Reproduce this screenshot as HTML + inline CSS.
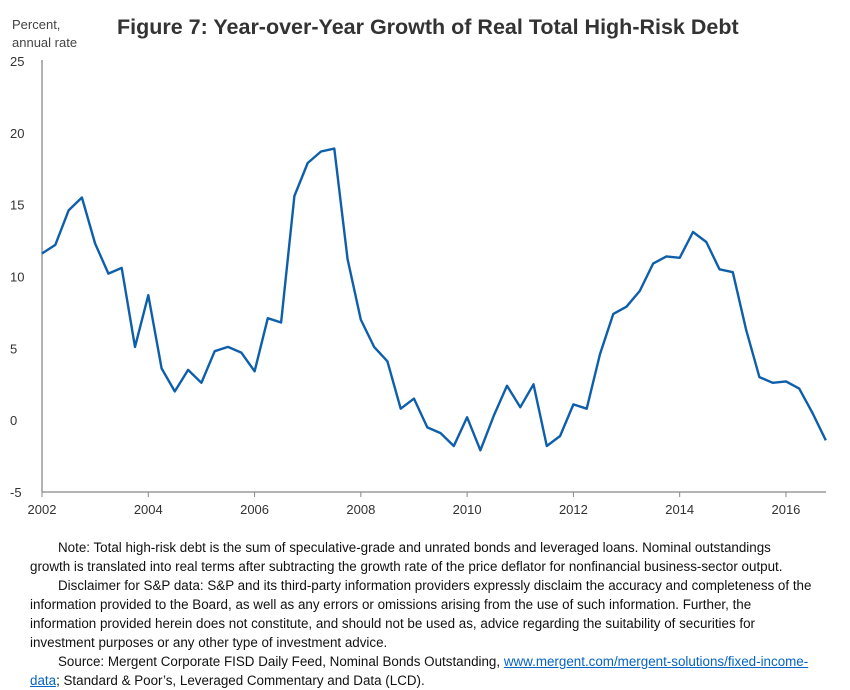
<!DOCTYPE html>
<html><head><meta charset="utf-8"><style>
body{margin:0;background:#fff;width:850px;height:689px;overflow:hidden;font-family:"Liberation Sans",sans-serif;color:#333}
svg{position:absolute;left:0;top:0}
#note{position:absolute;left:30px;top:538px;width:784px;font-size:13.4px;line-height:19px;color:#111}
#note p{margin:0;text-indent:28px}
a{color:#0563c1;text-decoration:underline}
</style></head><body>
<svg width="850" height="530">
<text x="117" y="34" font-size="21.5" font-weight="bold" fill="#333">Figure 7:  Year-over-Year Growth of Real Total High-Risk Debt</text>
<text x="12" y="29" font-size="13" fill="#444">Percent,</text>
<text x="12" y="47" font-size="13" fill="#444">annual rate</text>
<g id="ax"></g>
<polyline id="line" fill="none" stroke="#0e5fab" stroke-width="2.4" stroke-linejoin="round"/>
</svg>
<div id="note">
<p>Note: Total high-risk debt is the sum of speculative-grade and unrated bonds and leveraged loans.  Nominal outstandings growth is translated into real terms after subtracting the growth rate of the price deflator for nonfinancial business-sector output.</p>
<p>Disclaimer for S&amp;P data:  S&amp;P and its third-party information providers expressly disclaim the accuracy and completeness of the information provided to the Board, as well as any errors or omissions arising from the use of such information. Further, the information provided herein does not constitute, and should not be used as, advice regarding the suitability of securities for investment purposes or any other type of investment advice.</p>
<p>Source:  Mergent Corporate FISD Daily Feed, Nominal Bonds Outstanding, <a>www.mergent.com/mergent-solutions/fixed-income-data</a>; Standard &amp; Poor’s, Leveraged Commentary and Data (LCD).</p>
</div>
<script>
const values=[11.6,12.2,14.6,15.5,12.3,10.2,10.6,5.1,8.7,3.6,2.0,3.5,2.6,4.8,5.1,4.7,3.4,7.1,6.8,15.6,17.9,18.7,18.9,11.2,7.0,5.1,4.1,0.8,1.5,-0.5,-0.9,-1.8,0.2,-2.1,0.3,2.4,0.9,2.5,-1.8,-1.1,1.1,0.8,4.6,7.4,7.9,9.0,10.9,11.4,11.3,13.1,12.4,10.5,10.3,6.3,3.0,2.6,2.7,2.2,0.5,-1.4];
const startYear=2002;
const yTicks=[25,20,15,10,5,0,-5];
const xTicks=[2002,2004,2006,2008,2010,2012,2014,2016];
const x0=42,yrW=53.14,yTop=61,yBot=492,vMin=-5,vMax=25;
const X=t=>x0+(t-startYear)*yrW;
const Y=v=>yBot-(v-vMin)/(vMax-vMin)*(yBot-yTop);
const NS='http://www.w3.org/2000/svg',ax=document.getElementById('ax');
function mk(tag,attrs,txt){const e=document.createElementNS(NS,tag);for(const k in attrs)e.setAttribute(k,attrs[k]);if(txt!==undefined)e.textContent=txt;ax.appendChild(e);return e;}
let e=mk('line',{x1:x0,y1:yTop-1,x2:x0,y2:yBot,stroke:'#888','stroke-width':1.3});


e=mk('line',{x1:x0,y1:yBot,x2:X(startYear+values.length/4)-13,y2:yBot,stroke:'#888','stroke-width':1.3});


yTicks.forEach(v=>{const t=mk('text',{x:10,y:Y(v)+5,'font-size':13,fill:'#333'},String(v));

});
xTicks.forEach(yr=>{const l=mk('line',{x1:X(yr),y1:yBot,x2:X(yr),y2:yBot+5,stroke:'#888'});


const t=mk('text',{x:X(yr),y:yBot+22,'font-size':13,fill:'#333','text-anchor':'middle'},String(yr));

});
document.getElementById('line').setAttribute('points',values.map((v,i)=>X(startYear+i/4).toFixed(1)+','+Y(v).toFixed(1)).join(' '));
</script>
</body></html>
